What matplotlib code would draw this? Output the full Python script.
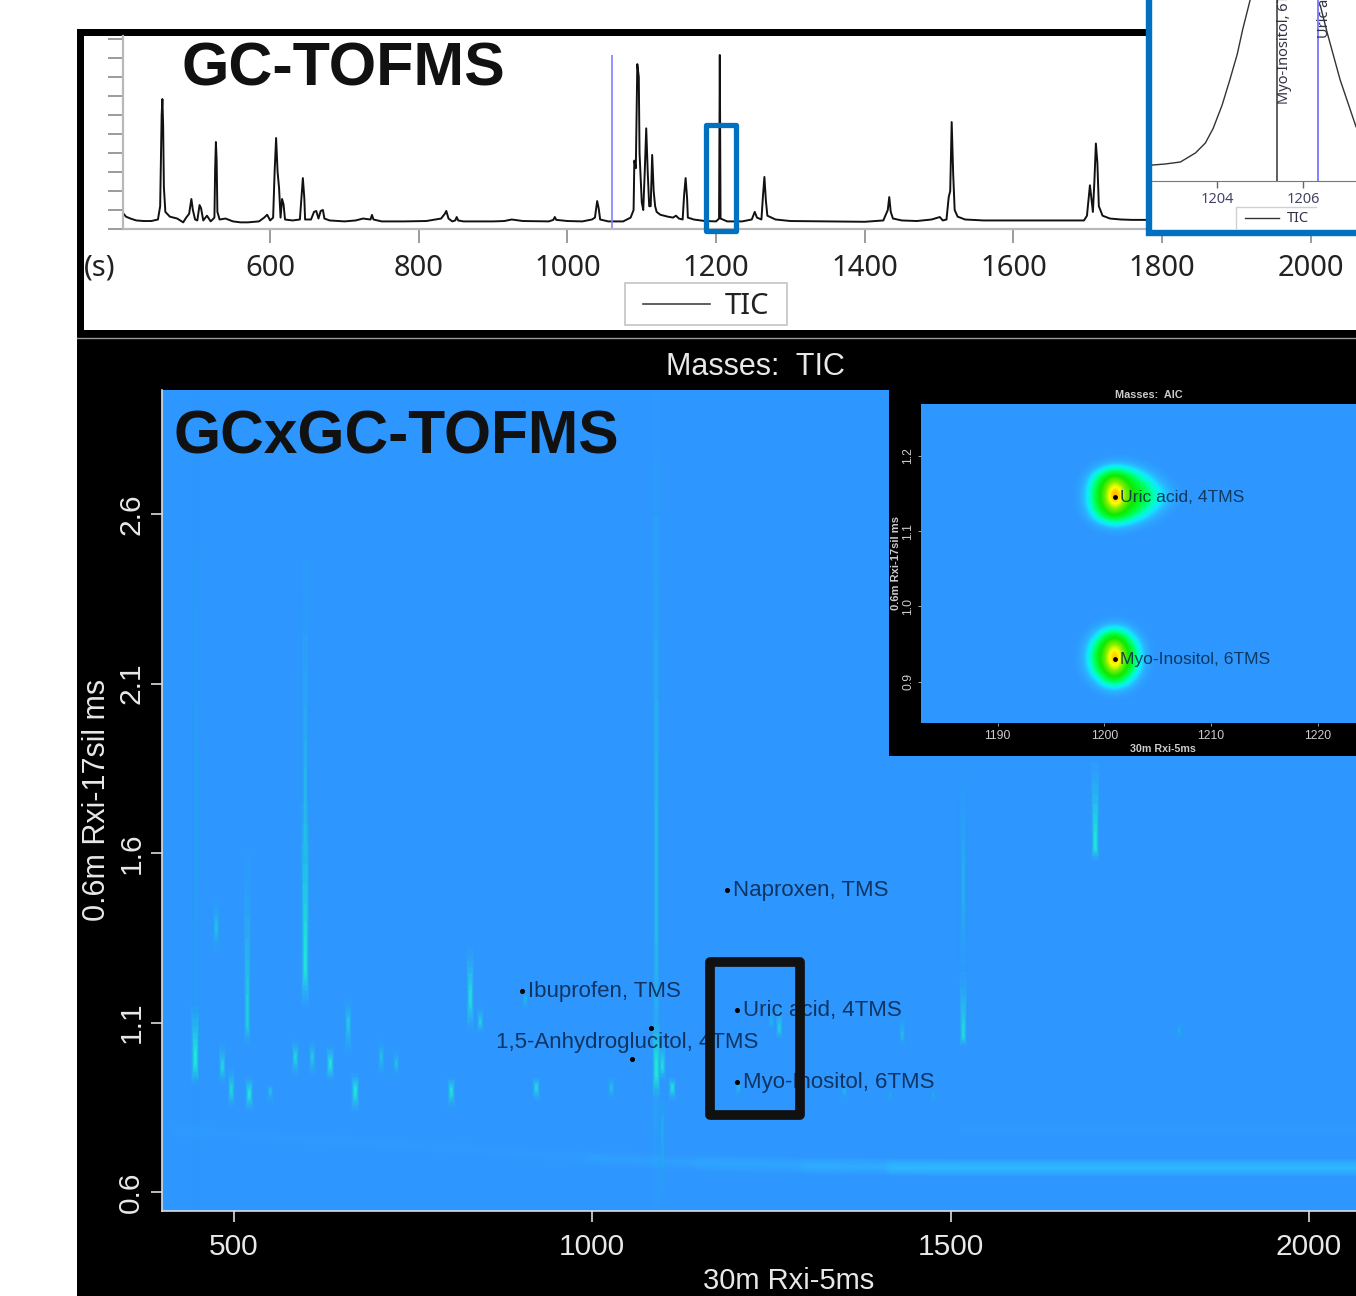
import numpy as np
import matplotlib
matplotlib.use("Agg")
import matplotlib.pyplot as plt
from matplotlib.colors import LinearSegmentedColormap, to_rgba
from matplotlib.patches import Rectangle

W, H = 1356, 1296

# GC-TOFMS trace: time (s) and height in axis ticks
tic_rt = [402, 406, 412, 420, 430, 440, 449, 452, 454, 455, 456, 457, 459, 465, 475, 483, 487, 491, 494, 496,
          499, 502, 505, 507, 510, 515, 520, 525, 526, 527, 528, 529, 532, 540, 550, 560, 570, 585, 592, 596,
          600, 604, 606, 608, 610, 612, 614, 616, 618, 620, 630, 640, 642, 644, 646, 647, 655, 659, 662, 665,
          668, 671, 673, 680, 700, 715, 725, 735, 737, 739, 750, 780, 810, 830, 835, 837, 840, 845, 849, 851,
          853, 860, 900, 915, 925, 940, 975, 981, 983, 985, 1000, 1020, 1033, 1037, 1039, 1040, 1042, 1044, 1055, 1075,
          1085, 1089, 1090, 1092, 1094, 1096, 1097, 1100, 1102, 1104, 1106, 1108, 1110, 1112, 1114, 1116, 1118, 1120, 1125, 1135,
          1142, 1146, 1150, 1155, 1157, 1159, 1161, 1162, 1170, 1185, 1200, 1204, 1205, 1206, 1215, 1235, 1248, 1252, 1255, 1261,
          1263, 1265, 1267, 1269, 1280, 1300, 1350, 1400, 1425, 1431, 1433, 1435, 1438, 1450, 1470, 1490, 1501, 1505, 1510, 1513,
          1515, 1517, 1519, 1521, 1525, 1535, 1560, 1600, 1650, 1695, 1699, 1701, 1703, 1705, 1707, 1709, 1711, 1713, 1715, 1720,
          1730, 1745, 1760, 1800, 1900, 2061]
tic_val = [.84, .65, .55, .45, .42, .42, .5, 1.2, 6.0, 6.84, 5.5, 2.2, .9, .65, .55, .35, .6, .8, 1.58, 1.0,
           .5, .45, 1.26, 1.1, .45, .7, .4, .6, 3.2, 4.58, 3.6, .9, .5, .55, .4, .35, .35, .4, .6, .75,
           .45, .6, 3.0, 4.79, 3.0, 2.15, .6, 1.58, 1.3, .5, .45, .5, 1.6, 2.68, 1.6, .5, .5, .9, .95, .55,
           .95, 1.0, .55, .45, .4, .45, .55, .5, .74, .5, .4, .4, .42, .55, .8, .95, .55, .4, .45, .63,
           .45, .4, .4, .42, .5, .42, .4, .48, .63, .48, .42, .4, .5, .6, 1.2, 1.47, 1.1, .5, .4, .4,
           .6, 1.0, 3.6, 3.2, 8.68, 8.0, 4.0, 1.4, 1.0, 3.0, 5.3, 3.0, 1.2, 1.2, 3.9, 2.0, 1.2, .9, .75, .65,
           .6, .7, .55, .5, 1.8, 2.68, 1.6, .6, .5, .42, .4, .55, 9.16, .55, .4, .4, .5, .9, .6, .5,
           1.7, 2.74, 1.5, .7, .5, .42, .4, .38, .45, 1.0, 1.68, .9, .55, .45, .42, .5, .63, .45, .5, 1.68,
           2.0, 5.63, 2.9, 1.0, .65, .5, .45, .45, .45, .45, .7, 1.5, 2.3, 1.6, .9, 2.5, 4.5, 3.5, 1.2, .7,
           .55, .5, .48, .48, .48, .48]
tic_ticks_x = [600, 800, 1000, 1200, 1400, 1600, 1800, 2000]
tic_ticks_y = [0, 1, 2, 3, 4, 5, 6, 7, 8, 9, 10]
cursor_rt = 1060
cursor_top = 9.16

# zoomed peak in the top right corner
zoom_rt = [1202.49, 1202.8, 1203.15, 1203.5, 1203.73, 1203.91, 1204.12, 1204.3, 1204.47, 1204.6, 1204.77]
zoom_val = [8.8, 9.4, 10.5, 15.5, 21, 29, 42, 56, 70, 84, 100]
zoom_rt3 = [1206.4, 1206.56, 1206.86, 1207.23]
zoom_val3 = [97, 82, 56, 30]
zoom_ticks = [1204, 1206]
myo_rt = 1205.4
uric_rt = 1206.35

# first column 30m, second column 0.6m: one row per streak of the 2D plot
streak_rt = [446, 476, 483, 496, 518, 521, 550, 585, 599, 600, 609, 635, 660, 669, 706, 727, 803, 829, 844,
             906, 921, 1026, 1089, 1089, 1097, 1097, 1111, 1203, 1250, 1261, 1351, 1415, 1432, 1476, 1517,
             1517, 1701, 1819, 447]
streak_low = [.92, 1.31, .92, .85, 1.03, .84, .86, .94, 1.15, 1.3, .94, .93, 1.0, .84, .94, .94, .85, 1.08, 1.07,
              1.13, .87, .87, .88, .55, .93, .55, .87, .88, 1.08, 1.05, .87, .86, 1.03, .86, 1.03,
              1.2, 1.58, 1.05, .55]
streak_peak = [.99, 1.38, .97, .9, 1.1, .89, .9, 1.0, 1.27, 1.7, 1.0, .98, 1.1, .9, 1.0, .98, .9, 1.17, 1.1,
               1.17, .91, .91, .96, 1.5, .97, .8, .91, .91, 1.1, 1.08, .9, .89, 1.06, .89, 1.06,
               1.5, 1.62, 1.08, 1.7]
streak_high = [1.15, 1.46, 1.04, .97, 1.6, .94, .92, 1.05, 1.75, 2.58, 1.05, 1.03, 1.17, .95, 1.05, 1.02, .94, 1.32, 1.15,
               1.2, .94, .94, 1.1, 2.96, 1.05, .9, .94, .94, 1.15, 1.15, .92, .9, 1.13, .9, 1.25,
               1.87, 1.87, 1.1, 2.96]
streak_level = [1.0, .3, .55, .55, .45, .85, .3, .55, .9, .25, .4, .85, .4, .9, .3, .3, .75, .7, .45,
                .2, .6, .3, 1.0, .3, .65, .15, .7, .25, .2, .45, .2, .15, .25, .15, .6,
                .18, .9, .15, .08]

# bleed of the solvent along the bottom of the 2D plot
band_rt = [420, 700, 900, 1100, 1300, 1500, 2066]
band_y = [.78, .745, .715, .69, .68, .675, .672]
band2_rt = [1000, 1100, 1300, 1500, 2066]
band2_y = [.70, .69, .68, .675, .672]
band3_rt = [1150, 1330, 1500, 2066]
band3_y = [.682, .675, .672, .672]
band3b_rt = [1300, 1500, 2066]
band3b_y = [.676, .672, .672]
band3c_rt = [1420, 1500, 2066]
band3c_y = [.673, .672, .672]
band4_rt = [1520, 2066]
band4_y = [.785, .785]

main_ticks_x = [500, 1000, 1500, 2000]
main_ticks_y = [.6, 1.1, 1.6, 2.1, 2.6]

names = ["Naproxen, TMS", "Ibuprofen, TMS", "1,5-Anhydroglucitol, 4TMS", "Uric acid, 4TMS", "Myo-Inositol, 6TMS"]
dot_rt = [1187.6, 902, 1082, 1201.5, 1201.5, 1056]
dot_y = [1.491, 1.193, 1.084, 1.137, .924, .992]
label_rt = [1196, 910, 866, 1210, 1210]
label_y = [1.489, 1.191, 1.04, 1.135, .922]

# zoomed 2D inset, cells (0 background, 1 apex)
uric_cells = [
    [0, 0, 0, 0, .02, .02, .01, 0, 0, 0, 0, 0],
    [0, 0, .06, .2, .28, .24, .15, .06, .01, 0, 0, 0],
    [0, .04, .28, .52, .62, .52, .38, .24, .1, .02, 0, 0],
    [0, .1, .42, .62, .82, .64, .5, .38, .22, .09, .01, 0],
    [0, .14, .46, .68, 1.0, .72, .56, .46, .32, .17, .04, 0],
    [0, .14, .46, .68, 1.0, .72, .56, .46, .33, .18, .05, 0],
    [0, .1, .42, .62, .8, .62, .5, .38, .24, .1, .02, 0],
    [0, .04, .28, .5, .6, .5, .38, .24, .1, .02, 0, 0],
    [0, 0, .07, .2, .28, .22, .13, .05, .01, 0, 0, 0],
    [0, 0, 0, 0, .02, .01, 0, 0, 0, 0, 0, 0],
]
myo_cells = [
    [0, 0, 0, 0, .01, 0, 0, 0, 0],
    [0, 0, .02, .1, .16, .1, .02, 0, 0],
    [0, .01, .14, .38, .5, .36, .12, 0, 0],
    [0, .05, .32, .58, .72, .55, .3, .04, 0],
    [0, .1, .44, .66, .92, .64, .42, .08, 0],
    [0, .12, .46, .7, 1.0, .68, .44, .1, 0],
    [0, .1, .44, .66, .92, .64, .42, .08, 0],
    [0, .05, .3, .56, .7, .54, .28, .04, 0],
    [0, .01, .12, .36, .48, .34, .12, 0, 0],
    [0, 0, .02, .1, .15, .08, .02, 0, 0],
    [0, 0, 0, 0, .01, 0, 0, 0, 0],
]
inset_ticks_x = [1190, 1200, 1210, 1220]
inset_ticks_y = [.9, 1.0, 1.1, 1.2]
inset_names = ["Uric acid, 4TMS", "Myo-Inositol, 6TMS"]
inset_rt = [1201, 1201]
inset_y = [1.145, .93]

BLUE = "#2e96ff"
heat = LinearSegmentedColormap.from_list("heat", [
    (0, BLUE), (.12, "#2ab4ff"), (.22, "#10e8ff"), (.32, "#00ffc0"), (.45, "#00ff40"),
    (.58, "#10e800"), (.72, "#80f000"), (.82, "#ffff00"), (.92, "#ffa000"), (1, "#ff3000")])

plt.rcParams["font.family"] = ["Liberation Sans", "DejaVu Sans"]
fig = plt.figure(figsize=(W / 100, H / 100), dpi=100, facecolor="white")


def px_axes(x0, y0, x1, y1, z):
    return fig.add_axes([x0 / W, 1 - y1 / H, (x1 - x0) / W, (y1 - y0) / H], zorder=z)


def px_layer(z):
    a = fig.add_axes([0, 0, 1, 1], zorder=z)
    a.set_xlim(0, W)
    a.set_ylim(H, 0)
    a.axis("off")
    a.patch.set_alpha(0)
    return a


# panels behind everything
bg = px_layer(0)
bg.add_patch(Rectangle((77, 29), W - 77, 307, fc="black", ec="none"))
bg.add_patch(Rectangle((84, 36), W - 84, 294, fc="white", ec="none"))
bg.add_patch(Rectangle((77, 336), W - 77, H - 336, fc="black", ec="none"))
bg.plot([77, W], [337.5, 337.5], color="#999999", lw=1)

# top trace
ax = px_axes(123, 36, W, 229, 1)
ax.patch.set_alpha(0)
ax.plot(tic_rt, tic_val, color="#111111", lw=1.4)
ax.vlines(cursor_rt, 0, cursor_top, color="#8080ff", lw=1.2)
ax.set_xlim(402, 2061)
ax.set_ylim(0, 10.16)
ax.set_xticks(tic_ticks_x)
ax.set_yticks(tic_ticks_y)
ax.set_yticklabels([])
ax.tick_params(axis="x", length=10, width=1.1, color="#808080", pad=8, labelsize=21, labelcolor="#222222")
ax.tick_params(axis="y", length=11, width=1.1, color="#808080")
for lab in ax.get_xticklabels():
    lab.set_family("Noto Sans")
for s in ["top", "right"]:
    ax.spines[s].set_visible(False)
for s in ["left", "bottom"]:
    ax.spines[s].set_color("#b8b8b8")
    ax.spines[s].set_linewidth(1.6)

# frames and the legend of the top panel
mid = px_layer(3)
mid.add_patch(Rectangle((705.5, 124.5), 30, 106, fc="none", ec="#0070c0", lw=3.8, joinstyle="round"))
mid.add_patch(Rectangle((1148.5, -8), 230, 241, fc="white", ec="#0070c0", lw=4.6, joinstyle="miter"))
mid.text(84, 268, "(s)", family="Noto Sans", fontsize=21, color="#222222", va="center", ha="left")
mid.add_patch(Rectangle((625, 283), 162, 42, fc="white", ec="#c4c4c4", lw=1.2))
mid.plot([643, 710], [304, 304], color="#444444", lw=1.2)
mid.text(725, 306, "TIC", family="Noto Sans", fontsize=21, color="#222222", va="center", ha="left")
mid.text(182, 70, "GC-TOFMS", fontsize=43.8, fontweight="bold", color="#111111", va="center", ha="left")

# zoomed peak
zm = px_axes(1152, 0, W, 181, 4)
zm.patch.set_alpha(0)
zm.plot(zoom_rt, zoom_val, color="#333333", lw=1)
zm.plot(zoom_rt3, zoom_val3, color="#333333", lw=1)
zm.vlines(myo_rt, 0, 100, color="#444444", lw=1.2)
zm.vlines(uric_rt, 0, 100, color="#8080ff", lw=1.4)
zm.set_xlim(1202.49, 1207.23)
zm.set_ylim(0, 100)
zm.set_xticks(zoom_ticks)
zm.set_yticks([])
zm.tick_params(axis="x", length=5, width=1, color="#666666", pad=3, labelsize=10.5, labelcolor="#444466")
for lab in zm.get_xticklabels():
    lab.set_family("Noto Sans")
for s in ["top", "right", "left"]:
    zm.spines[s].set_visible(False)
zm.spines["bottom"].set_color("#777777")
top = px_layer(5)
top.text(1285, 104, "Myo-Inositol, 6TMS", rotation=90, family="Noto Sans", fontsize=10.5, color="#333344",
         ha="center", va="bottom", clip_on=True)
top.text(1324, 38, "Uric acid, 4TMS", rotation=90, family="Noto Sans", fontsize=10.5, color="#333344",
         ha="center", va="bottom", clip_on=True)
top.plot([1236, 1236, 1316], [228, 207, 207], color="#d0d0d0", lw=1)
top.plot([1245, 1279], [218, 218], color="#333333", lw=1)
top.text(1287, 218, "TIC", family="Noto Sans", fontsize=10.5, color="#333344", va="center", ha="left")

# 2D plot
m = px_axes(162, 390, W, 1211, 1)
m.set_facecolor(BLUE)
layer_frac = [1, .87, .75, .62, .5, .38, .27, .17]
layer_lw = [6, 5.2, 4.5, 3.8, 3.1, 2.5, 1.9, 1.4]
layer_wt = [.08, .1, .13, .18, .24, .32, .4, .5]
for frac, lw, wt in zip(layer_frac, layer_lw, layer_wt):
    for rt, lo, pk, hi, lev in zip(streak_rt, streak_low, streak_peak, streak_high, streak_level):
        m.vlines(rt, pk - (pk - lo) * frac, pk + (hi - pk) * frac, colors=[to_rgba("#20f0d8", min(1, lev * wt))],
                 linewidth=lw)
for lw in [12, 9, 6, 3]:
    m.plot(band_rt, band_y, color="#30c0ff", lw=lw, alpha=.03, solid_capstyle="round")
    m.plot(band2_rt, band2_y, color="#30c8ff", lw=lw, alpha=.04, solid_capstyle="round")
    m.plot(band3_rt, band3_y, color="#30d0ff", lw=lw, alpha=.04, solid_capstyle="round")
    m.plot(band3b_rt, band3b_y, color="#30d8ff", lw=lw, alpha=.05, solid_capstyle="round")
    m.plot(band3c_rt, band3c_y, color="#30e0ff", lw=lw, alpha=.07, solid_capstyle="round")
    m.plot(band4_rt, band4_y, color="#30c0ff", lw=lw, alpha=.03, solid_capstyle="round")
m.set_xlim(400, 2065.5)
m.set_ylim(.544, 2.966)
m.set_xticks(main_ticks_x)
m.set_yticks(main_ticks_y)
m.set_yticklabels(["%.1f" % v for v in main_ticks_y], rotation=90, va="center")
m.tick_params(axis="both", length=8, width=1.2, color="#dddddd", labelcolor="#e8e8e8", labelsize=21.5)
m.tick_params(axis="x", pad=8)
m.tick_params(axis="y", pad=4)
for s in ["top", "right"]:
    m.spines[s].set_visible(False)
for s in ["left", "bottom"]:
    m.spines[s].set_color("#dddddd")
    m.spines[s].set_linewidth(1.2)
m.scatter(dot_rt, dot_y, s=7, color="black", zorder=4)
for i in range(len(names)):
    m.text(label_rt[i], label_y[i], names[i], fontsize=16, color="#0c2a50", alpha=.9, ha="left", va="center")
m.add_patch(Rectangle((1164, .827), 125.5, .451, fc="none", ec="#111111", lw=7, joinstyle="round", zorder=5))

over = px_layer(2)
over.text(174, 438, "GCxGC-TOFMS", fontsize=43.6, fontweight="bold", color="#111111", va="center", ha="left")
over.text(755, 367, "Masses:  TIC", fontsize=22, color="#e8e8e8", va="center", ha="center")
over.text(789, 1281, "30m Rxi-5ms", fontsize=21, color="#e8e8e8", va="center", ha="center")
over.text(97, 800, "0.6m Rxi-17sil ms", fontsize=22, color="#e8e8e8", va="center", ha="center", rotation=90)
over.add_patch(Rectangle((889, 389), W - 889, 367, fc="black", ec="none"))
over.text(1149, 394.5, "Masses:  AIC", fontsize=7.8, fontweight="bold", color="#cccccc", va="center", ha="center")
over.text(1163, 749, "30m Rxi-5ms", fontsize=7.7, fontweight="bold", color="#cccccc", va="center", ha="center")
over.text(896, 563, "0.6m Rxi-17sil ms", fontsize=8, fontweight="bold", color="#cccccc", va="center", ha="center", rotation=90)

# inset of the 2D plot
ins = px_axes(921, 404, W, 723, 3)
ins.set_facecolor(BLUE)
ins.imshow(uric_cells, extent=(1196.76, 1208.0, 1.0936, 1.2), cmap=heat, vmin=0, vmax=1,
           interpolation="bicubic", aspect="auto")
ins.imshow(myo_cells, extent=(1196.76, 1205.2, .873, .990), cmap=heat, vmin=0, vmax=1,
           interpolation="bicubic", aspect="auto")
ins.set_xlim(1182.8, 1223.6)
ins.set_ylim(.845, 1.269)
ins.set_xticks(inset_ticks_x)
ins.set_yticks(inset_ticks_y)
ins.set_yticklabels(["%.1f" % v for v in inset_ticks_y], rotation=90, va="center")
ins.tick_params(axis="both", length=2, width=.6, color="#bbbbbb", labelcolor="#cccccc", labelsize=8.8, pad=3)
for s in ins.spines.values():
    s.set_visible(False)
ins.scatter(inset_rt, inset_y, s=6, color="black", zorder=4)
for i in range(len(inset_names)):
    ins.text(inset_rt[i] + .5, inset_y[i], inset_names[i], fontsize=12.6, color="#0b2f50", alpha=.9, ha="left", va="center")

fig.savefig("out.png", dpi=100)
